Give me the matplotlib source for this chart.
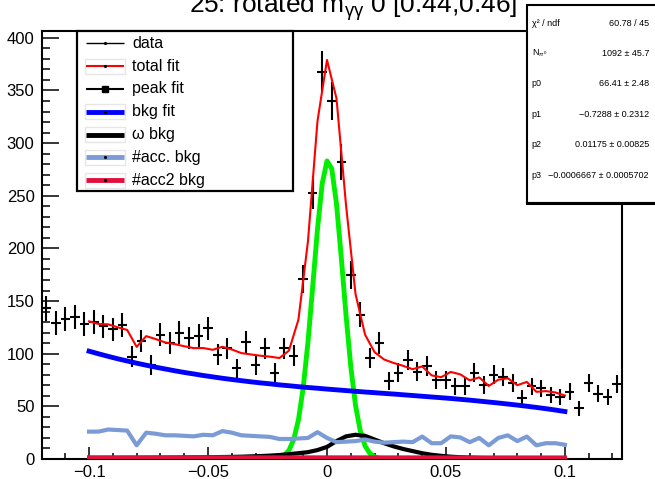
import matplotlib
matplotlib.use("Agg")
import matplotlib.pyplot as plt
from matplotlib.patches import Rectangle
from matplotlib.ticker import MultipleLocator
import numpy as np

plt.rcParams['font.family'] = ['Liberation Sans', 'DejaVu Sans']
plt.rcParams['mathtext.fontset'] = 'custom'
plt.rcParams['mathtext.rm'] = 'Liberation Sans'
plt.rcParams['mathtext.it'] = 'Liberation Sans:italic'

# histogram: 61 bins of 0.004 starting at -0.12
bin_lo = -0.12
bin_w = 0.004
counts = [143, 129, 133, 135, 128, 130, 126, 123, 127, 97,
          112, 89, 118, 110, 120, 115, 117, 124, 99, 105,
          86, 111, 89, 105, 82, 105, 98,
          171, 253, 368, 340, 282, 175, 137,
          96, 110, 74, 82, 94, 83, 88, 75, 75, 69,
          69, 82, 70, 80, 78, 72, 58, 69, 67, 61,
          59, 64, 48, 72, 62, 59, 71]

# fit components on the fit range [-0.1, 0.1], step 0.004
fit_lo, fit_step = -0.1, 0.004
bkg_fit = [102.4, 99.9, 97.5, 95.2, 93.1, 91.0, 89.1, 87.2, 85.5, 83.8,
           82.2, 80.8, 79.3, 78.0, 76.7, 75.5, 74.4, 73.3, 72.3, 71.4,
           70.4, 69.6, 68.7, 67.9, 67.2, 66.4, 65.7, 65.0, 64.3, 63.6,
           63.0, 62.3, 61.7, 61.0, 60.3, 59.6, 58.9, 58.2, 57.5, 56.7,
           55.9, 55.0, 54.1, 53.2, 52.2, 51.2, 50.1, 49.0, 47.8, 46.5, 45.1]
omega_bkg = [0.8, 0.8, 0.9, 0.9, 1.0, 1.0, 1.1, 1.2, 1.2, 1.3,
             1.4, 1.5, 1.6, 1.7, 1.9, 2.0, 2.2, 2.5, 2.8, 3.2,
             3.8, 4.6, 5.5, 6.5, 8.5, 11.5, 17, 21.5, 23, 22,
             18.5, 15, 12, 9.5, 7.5, 5.5, 4.0, 3.0, 2.2, 1.7,
             1.3, 1.0, 0.8, 0.6, 0.5, 0.4, 0.3, 0.3, 0.2, 0.2, 0.2]
acc_bkg = [26, 26, 28, 27.5, 27, 13, 25, 24, 22.5, 22.5,
           22, 21.5, 23, 22.5, 26.5, 25, 22.5, 22, 21.5, 21,
           19, 19, 19.5, 20, 25.5, 20, 16, 16.5, 17, 18.5,
           16.5, 15.5, 16, 16.5, 16, 21.3, 15, 15, 21.5, 20.5,
           16, 20, 13, 20, 22.5, 17, 21.3, 13, 15, 15, 13.5]
total_fit = [130.7, 128.2, 127.9, 125.1, 122.6, 106.5, 116.7, 113.9, 110.7, 109.1,
             107.1, 105.3, 105.4, 103.7, 106.6, 104.0, 100.6, 99.3, 98.1, 97.2,
             95.9, 102.9, 132.4, 206.8, 320.9, 379.0, 342.4, 241.1, 156.6, 118.1,
             101.5, 94.5, 91.2, 88.5, 85.3, 87.9, 79.4, 77.7, 82.7, 80.4,
             74.7, 77.5, 69.4, 75.3, 76.7, 70.1, 73.2, 63.8, 64.5, 63.2, 60.3]
acc2_x = [-0.1, 0.1]
acc2_bkg = [1.6, 1.4]

# peak on a finer grid, -0.03 .. 0.03 step 0.002
peak_lo, peak_step = -0.03, 0.002
peak_fit = [0, 0.01, 0.03, 0.1, 0.4, 1.2, 3.3, 8.2, 18.4, 37.2,
            67.7, 110.9, 163.9, 218.2, 261.8, 283.1, 275.8, 242.2, 191.6, 136.6,
            87.8, 50.8, 26.6, 12.5, 5.3, 2.0, 0.7, 0.2, 0.06, 0.01, 0]

xticks = [-0.1, -0.05, 0, 0.05, 0.1]
xticklabels = ['\u22120.1', '\u22120.05', '0', '0.05', '0.1']
yticks = [0, 50, 100, 150, 200, 250, 300, 350, 400]

legend_labels = ['data', 'total fit', 'peak fit', 'bkg fit', '\u03c9 bkg', '#acc. bkg', '#acc2 bkg']
stat_names = ['\u03c7\u00b2 / ndf', 'N$_{\\pi^0}$', 'p0', 'p1', 'p2', 'p3']
stat_values = ['60.78 / 45', '1092 \u00b1 45.7', '66.41 \u00b1 2.48',
               '\u22120.7288 \u00b1 0.2312', '0.01175 \u00b1 0.00825',
               '\u22120.0006667 \u00b1 0.0005702']
title = '25: rotated m$_{\\mathrm{\u03b3\u03b3}}$ 0 [0.44,0.46]'

c_lightblue = '#7b9bd6'
c_crimson = '#e0103c'

W, H = 655, 479
fig = plt.figure(figsize=(W / 100, H / 100), dpi=100)
ax = fig.add_axes([41.5 / W, 20 / H, 580.5 / W, 428 / H])

counts = np.array(counts, dtype=float)
centers = bin_lo + bin_w * (np.arange(len(counts)) + 0.5)
fit_x = fit_lo + fit_step * np.arange(len(bkg_fit))
peak_x = peak_lo + peak_step * np.arange(len(peak_fit))

# data points with sqrt(N) errors, then the fit curves on top
ax.errorbar(centers, counts, xerr=bin_w / 2, yerr=np.sqrt(counts), fmt='none',
            ecolor='black', elinewidth=1.5, capsize=0, zorder=2)
ax.plot(fit_x, total_fit, color='red', lw=1.5, zorder=3)
ax.plot(peak_x, peak_fit, color='#00ee00', lw=3.5, zorder=4)
ax.plot(fit_x, bkg_fit, color='blue', lw=3.5, zorder=4)
ax.plot(fit_x, omega_bkg, color='black', lw=3, zorder=4)
ax.plot(fit_x, acc_bkg, color=c_lightblue, lw=3, zorder=4)
ax.plot(acc2_x, acc2_bkg, color=c_crimson, lw=3, zorder=5)

ax.set_xlim(-0.12, 0.124)
ax.set_ylim(0, 406.5)
ax.set_xticks(xticks)
ax.set_xticklabels(xticklabels)
ax.set_yticks(yticks)
ax.xaxis.set_minor_locator(MultipleLocator(0.01))
ax.yaxis.set_minor_locator(MultipleLocator(10))
ax.tick_params(axis='x', which='major', direction='in', length=8.5, width=1.1,
               labelsize=12, pad=4, top=False)
ax.tick_params(axis='x', which='minor', direction='in', length=4.2, width=1.1, top=False)
ax.tick_params(axis='y', which='major', direction='in', length=12, width=1.1,
               labelsize=12, pad=5, right=False)
ax.tick_params(axis='y', which='minor', direction='in', length=6, width=1.1, right=False)
for s in ax.spines.values():
    s.set_linewidth(1.5)

fig.text(353 / W, 1 - 13 / H, title, ha='center', va='baseline', fontsize=19)

# legend box (pixel coordinates inside the box)
leg = fig.add_axes([77 / W, (H - 191) / H, 216 / W, 160 / H])
leg.set_xlim(0, 216)
leg.set_ylim(160, 0)
leg.axis('off')
leg.add_patch(Rectangle((0, 0), 216, 160, facecolor='white', edgecolor='black',
                        lw=1.6, clip_on=False))
row_y = 12.3 + 22.8 * np.arange(len(legend_labels))
styles = [dict(color='black', lw=1.0, marker='.', ms=2.5),
          dict(color='red', lw=1.5, marker='.', ms=2.5),
          dict(color='black', lw=1.5, marker='s', ms=5),
          dict(color='blue', lw=3.5, marker='.', ms=2.5),
          dict(color='black', lw=3.5),
          dict(color=c_lightblue, lw=3.5, marker='.', ms=2.5),
          dict(color=c_crimson, lw=3.5, marker='.', ms=2.5)]
for k, (lab, st) in enumerate(zip(legend_labels, styles)):
    y = row_y[k]
    if k in (1, 3, 4, 5, 6):
        leg.add_patch(Rectangle((8, y - 7.5), 40, 15, facecolor='none',
                                edgecolor='#e6e6e6', lw=1.0))
    leg.plot([9, 47], [y, y], color=st['color'], lw=st['lw'], solid_capstyle='butt')
    if 'marker' in st:
        leg.plot([28], [y], marker=st['marker'], ms=st['ms'], color='black', ls='none')
    leg.text(55, y, lab, ha='left', va='center', fontsize=11.5)

# stats box, runs off the right edge like the reference
sb = fig.add_axes([527 / W, (H - 203) / H, (W - 527) / W, 198 / H])
sb.set_xlim(0, W - 527)
sb.set_ylim(198, 0)
sb.axis('off')
sb.add_patch(Rectangle((0, 0), 140, 198, facecolor='white', edgecolor='black',
                       lw=1.5, clip_on=False))
sb.plot([0, 140], [198, 198], color='black', lw=2.2, clip_on=False)
stat_y = 18 + 30.4 * np.arange(len(stat_names))
for name, val, y in zip(stat_names, stat_values, stat_y):
    sb.text(4.5, y, name, ha='left', va='center', fontsize=6.5)
    sb.text(122, y, val, ha='right', va='center', fontsize=6.5)

fig.savefig('out.png', dpi=100)
